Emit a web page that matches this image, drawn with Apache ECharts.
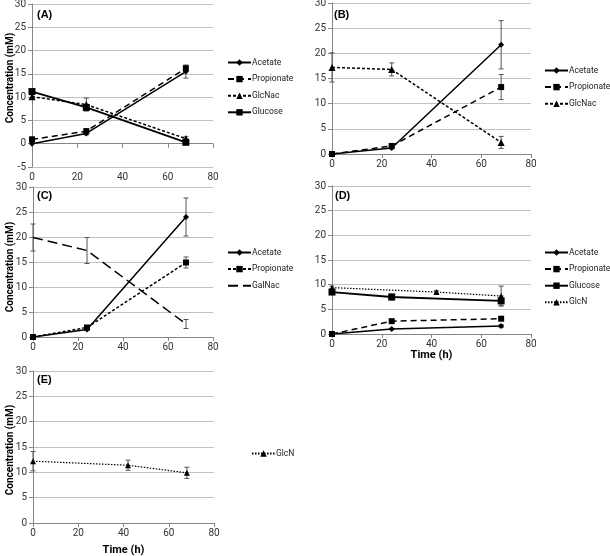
<!DOCTYPE html>
<html><head><meta charset="utf-8">
<script src="https://cdn.jsdelivr.net/npm/echarts@6/dist/echarts.min.js"></script>
<style>html,body{margin:0;padding:0;background:#fff}#c{width:610px;height:556px}</style>
</head><body><div id="c"></div>
<script>
const FONT = 'Roboto, "Liberation Sans", sans-serif';

// ---- Panel A ----
const timeA = [0, 24, 68];
const acetateA = [0, 2.2, 15.5];
const acetateErrA = [0, 0.3, 1.4];
const propionateA = [0.9, 2.7, 16.2];
const propionateErrA = [0.6, 0.5, 0.5];
const glcnacA = [10.1, 8.4, 1.1];
const glcnacErrA = [0.4, 1.4, 0.4];
const glucoseA = [11.2, 7.8, 0.3];
const glucoseErrA = [0.3, 0.5, 0.3];
// ---- Panel B ----
const timeB = [0, 24, 68];
const acetateB = [0, 1.2, 21.7];
const acetateErrB = [0, 0.2, 4.8];
const propionateB = [0, 1.6, 13.3];
const propionateErrB = [0, 0.3, 2.5];
const glcnacB = [17.2, 16.8, 2.3];
const glcnacErrB = [2.9, 1.3, 1.2];
// ---- Panel C ----
const timeC = [0, 24, 68];
const acetateC = [0, 1.5, 24.0];
const acetateErrC = [0, 0.2, 3.8];
const propionateC = [0, 1.9, 14.9];
const propionateErrC = [0, 0.3, 1.1];
const galnacC = [19.9, 17.3, 2.6];
const galnacErrC = [2.7, 2.6, 0.9];
// ---- Panel D ----
const timeD = [0, 24, 68];
const acetateD = [0, 1.0, 1.6];
const acetateErrD = [0, 0.15, 0.3];
const propionateD = [0, 2.6, 3.1];
const propionateErrD = [0, 0.3, 0.3];
const glucoseD = [8.5, 7.5, 6.7];
const glucoseErrD = [0.3, 0.6, 1.0];
const timeGlcND = [0, 42, 68];
const glcnD = [9.4, 8.5, 7.7];
const glcnErrD = [0.3, 0.3, 2.0];
// ---- Panel E ----
const timeE = [0, 42, 68];
const glcnE = [12.2, 11.4, 9.9];
const glcnErrE = [1.9, 1.0, 1.1];

const panelLabels = ['(A)', '(B)', '(C)', '(D)', '(E)'];
const yTitle = 'Concentration (mM)';
const xTitle = 'Time (h)';

const STY = {
  acetate:   {symbol: 'diamond', symbolSize: 6, type: 'solid', width: 1.5},
  propLong:  {symbol: 'rect', symbolSize: 6, type: [6, 4], width: 1.5},
  propShort: {symbol: 'rect', symbolSize: 6, type: [3, 2], width: 1.5},
  glcnac:    {symbol: 'triangle', symbolSize: 7, type: [3, 2], width: 1.5},
  glucose:   {symbol: 'rect', symbolSize: 7, type: 'solid', width: 1.8},
  galnac:    {symbol: 'none', symbolSize: 0, type: [10, 5], width: 1.5},
  glcn:      {symbol: 'triangle', symbolSize: 6, type: [1.5, 1.5], width: 1.2}
};

function pts(t, v) { return t.map((x, i) => [x, v[i]]); }
function errs(t, v, e) { return t.map((x, i) => [x, v[i], e[i]]); }

function lineSeries(gi, name, t, v, sty) {
  return {
    type: 'line', name: name, xAxisIndex: gi, yAxisIndex: gi,
    data: pts(t, v), symbol: sty.symbol, symbolSize: sty.symbolSize,
    showSymbol: sty.symbol !== 'none',
    lineStyle: {color: '#000', width: sty.width, type: sty.type},
    itemStyle: {color: '#000'}, animation: false, z: 3
  };
}
function renderErr(params, api) {
  const x = api.value(0), y = api.value(1), e = api.value(2);
  if (!(e > 0)) return null;
  const top = api.coord([x, y + e]), bot = api.coord([x, y - e]);
  const w = 2.5;
  const st = {stroke: '#555', lineWidth: 1};
  return {type: 'group', children: [
    {type: 'line', shape: {x1: top[0], y1: top[1], x2: bot[0], y2: bot[1]}, style: st},
    {type: 'line', shape: {x1: top[0] - w, y1: top[1], x2: top[0] + w, y2: top[1]}, style: st},
    {type: 'line', shape: {x1: bot[0] - w, y1: bot[1], x2: bot[0] + w, y2: bot[1]}, style: st}
  ]};
}
function errSeries(gi, t, v, e) {
  return {type: 'custom', xAxisIndex: gi, yAxisIndex: gi, data: errs(t, v, e),
    encode: {x: 0, y: 1}, renderItem: renderErr, clip: false, silent: true,
    animation: false, z: 2};
}

const grids = [
  {left: 32, top: 4, width: 181, height: 163, yMin: -5},
  {left: 332, top: 3, width: 199, height: 151, yMin: 0},
  {left: 33, top: 187, width: 180, height: 150, yMin: 0},
  {left: 332, top: 186, width: 199, height: 148, yMin: 0},
  {left: 33, top: 371, width: 181, height: 152, yMin: 0}
];
const tickFont = {fontFamily: FONT, fontSize: 10, color: '#333'};

const xAxes = grids.map((g, i) => ({
  type: 'value', gridIndex: i, min: 0, max: 80, interval: 20,
  axisLine: {show: true, onZero: true, lineStyle: {color: '#868686', width: 1}},
  axisTick: {show: true, length: 4, lineStyle: {color: '#868686'}},
  axisLabel: Object.assign({margin: 5}, tickFont),
  splitLine: {show: false},
  name: (i === 3 || i === 4) ? xTitle : '',
  nameLocation: 'middle', nameGap: i === 3 ? 14 : 22,
  nameTextStyle: {fontFamily: FONT, fontSize: 11, fontWeight: 'bold', color: '#000'}
}));
const yAxes = grids.map((g, i) => ({
  type: 'value', gridIndex: i, min: g.yMin, max: 30, interval: 5,
  axisLine: {show: true, lineStyle: {color: '#868686', width: 1}},
  axisTick: {show: true, length: 4, lineStyle: {color: '#868686'}},
  axisLabel: Object.assign({margin: 6}, tickFont),
  splitLine: {show: true, lineStyle: {color: '#c0c0c0', width: 1}}
}));

const series = [
  // A
  errSeries(0, timeA, acetateA, acetateErrA),
  errSeries(0, timeA, propionateA, propionateErrA),
  errSeries(0, timeA, glcnacA, glcnacErrA),
  errSeries(0, timeA, glucoseA, glucoseErrA),
  lineSeries(0, 'A|Acetate', timeA, acetateA, STY.acetate),
  lineSeries(0, 'A|Propionate', timeA, propionateA, STY.propLong),
  lineSeries(0, 'A|GlcNac', timeA, glcnacA, STY.glcnac),
  lineSeries(0, 'A|Glucose', timeA, glucoseA, STY.glucose),
  // B
  errSeries(1, timeB, acetateB, acetateErrB),
  errSeries(1, timeB, propionateB, propionateErrB),
  errSeries(1, timeB, glcnacB, glcnacErrB),
  lineSeries(1, 'B|Acetate', timeB, acetateB, STY.acetate),
  lineSeries(1, 'B|Propionate', timeB, propionateB, STY.propLong),
  lineSeries(1, 'B|GlcNac', timeB, glcnacB, STY.glcnac),
  // C
  errSeries(2, timeC, acetateC, acetateErrC),
  errSeries(2, timeC, propionateC, propionateErrC),
  errSeries(2, timeC, galnacC, galnacErrC),
  lineSeries(2, 'C|Acetate', timeC, acetateC, STY.acetate),
  lineSeries(2, 'C|Propionate', timeC, propionateC, STY.propShort),
  lineSeries(2, 'C|GalNac', timeC, galnacC, STY.galnac),
  // D
  errSeries(3, timeD, acetateD, acetateErrD),
  errSeries(3, timeD, propionateD, propionateErrD),
  errSeries(3, timeD, glucoseD, glucoseErrD),
  errSeries(3, timeGlcND, glcnD, glcnErrD),
  lineSeries(3, 'D|Acetate', timeD, acetateD, STY.acetate),
  lineSeries(3, 'D|Propionate', timeD, propionateD, STY.propLong),
  lineSeries(3, 'D|Glucose', timeD, glucoseD, STY.glucose),
  lineSeries(3, 'D|GlcN', timeGlcND, glcnD, STY.glcn),
  // E
  errSeries(4, timeE, glcnE, glcnErrE),
  lineSeries(4, 'E|GlcN', timeE, glcnE, STY.glcn)
];

function legend(names, left, top) {
  return {
    data: names, left: left, top: top, orient: 'vertical',
    itemWidth: 23, itemHeight: 8, itemGap: 7.6, padding: 0,
    selectedMode: false,
    formatter: n => n.split('|')[1],
    textStyle: {fontFamily: FONT, fontSize: 8.5, color: '#222', padding: [0, 0, 0, -4]}
  };
}

const option = {
  backgroundColor: '#fff',
  animation: false,
  title: panelLabels.map((t, i) => ({
    text: t, padding: 0,
    left: [37, 334, 37, 335, 37][i], top: [9, 9, 190, 190, 374][i],
    textStyle: {fontFamily: 'Liberation Sans, Arial, sans-serif', fontSize: 11, fontWeight: 'bold', color: '#000'}
  })),
  grid: grids.map(g => ({left: g.left, top: g.top, width: g.width, height: g.height,
    containLabel: false, outerBoundsMode: 'none'})),
  xAxis: xAxes,
  yAxis: yAxes,
  legend: [
    legend(['A|Acetate', 'A|Propionate', 'A|GlcNac', 'A|Glucose'], 227, 58),
    legend(['B|Acetate', 'B|Propionate', 'B|GlcNac'], 544, 66),
    legend(['C|Acetate', 'C|Propionate',
            {name: 'C|GalNac', itemStyle: {opacity: 0, color: 'rgba(0,0,0,0)', borderWidth: 0}}], 227, 248),
    legend(['D|Acetate', 'D|Propionate', 'D|Glucose', 'D|GlcN'], 544, 248),
    legend(['E|GlcN'], 251, 449)
  ],
  graphic: [
    {type: 'text', x: 10, y: 78, rotation: Math.PI / 2,
     style: {text: yTitle, fontFamily: FONT, fontSize: 10, fontWeight: 'bold', fill: '#000', align: 'center', verticalAlign: 'middle'}},
    {type: 'text', x: 10, y: 267, rotation: Math.PI / 2,
     style: {text: yTitle, fontFamily: FONT, fontSize: 10, fontWeight: 'bold', fill: '#000', align: 'center', verticalAlign: 'middle'}},
    {type: 'text', x: 10, y: 450, rotation: Math.PI / 2,
     style: {text: yTitle, fontFamily: FONT, fontSize: 10, fontWeight: 'bold', fill: '#000', align: 'center', verticalAlign: 'middle'}}
  ],
  series: series
};

const chart = echarts.init(document.getElementById('c'), null, {renderer: 'canvas'});
chart.setOption(option);
</script>
</body></html>
